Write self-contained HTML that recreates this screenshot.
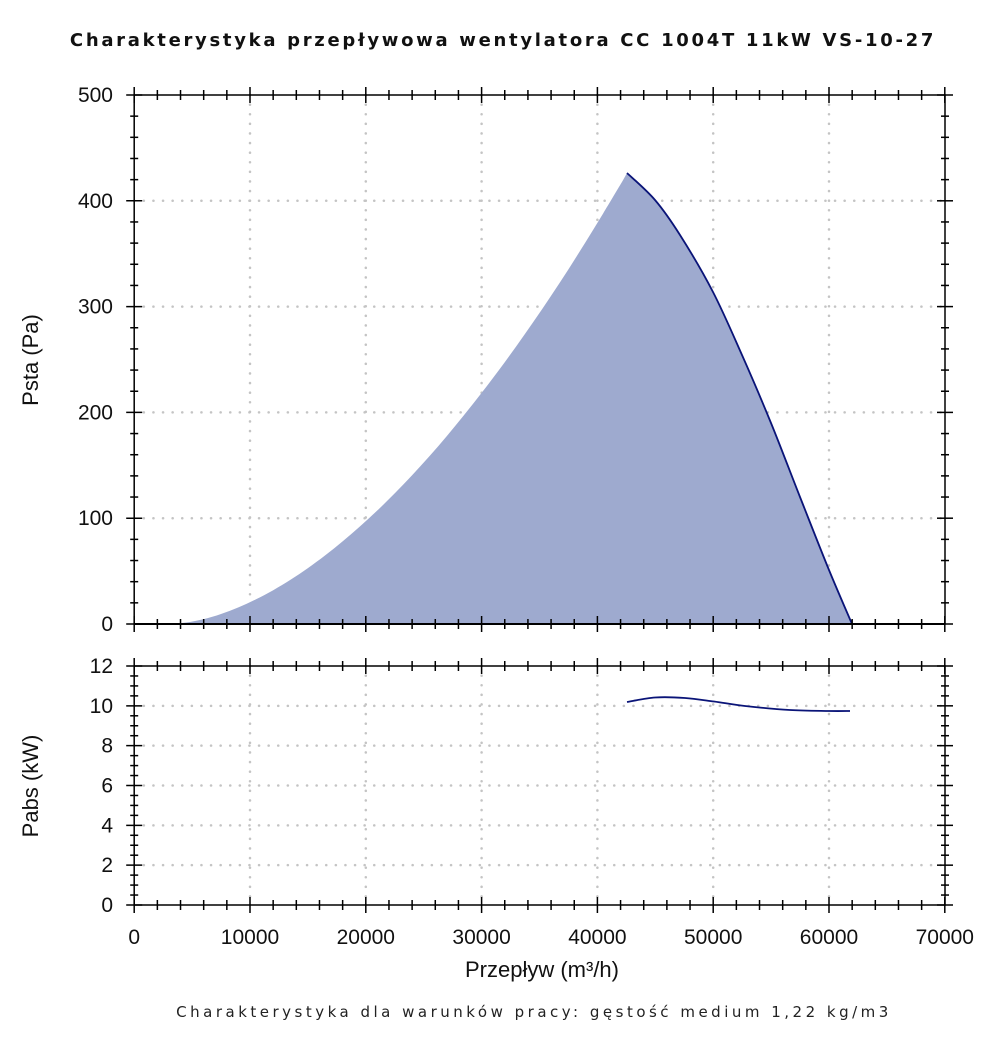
<!DOCTYPE html>
<html><head><meta charset="utf-8"><style>
html,body{margin:0;padding:0;background:#fff;}
svg{display:block;font-family:"Liberation Sans","DejaVu Sans",sans-serif;}
</style></head><body>
<svg id="s" width="1000" height="1062" viewBox="0 0 1000 1062" xmlns="http://www.w3.org/2000/svg">
<rect width="1000" height="1062" fill="#fff"/>
<text x="503" y="46" text-anchor="middle" font-family="DejaVu Sans, sans-serif" font-weight="bold" font-size="18" letter-spacing="2.7" fill="#111">Charakterystyka przepływowa wentylatora CC 1004T 11kW VS-10-27</text>
<g id="grid" stroke="#c4c4c4" stroke-width="2.5" stroke-dasharray="0.1 9.5" stroke-linecap="round"></g>
<path id="fill" fill="#9eaacf"/>
<path id="down" fill="none" stroke="#0a1478" stroke-width="1.8"/>
<line x1="134" y1="624" x2="945" y2="624" stroke="#000" stroke-width="2"/>
<path id="pw" fill="none" stroke="#0a1478" stroke-width="1.8"/>
<g id="ax" stroke="#000" stroke-width="1.5" fill="none"></g>
<g id="lbl" font-size="21" fill="#111"></g>
<text transform="translate(38,360) rotate(-90)" text-anchor="middle" font-size="22" fill="#111">Psta (Pa)</text>
<text transform="translate(38,786) rotate(-90)" text-anchor="middle" font-size="22" fill="#111">Pabs (kW)</text>
<text x="542" y="977" text-anchor="middle" font-size="22" fill="#111">Przepływ (m³/h)</text>
<text x="534" y="1017" text-anchor="middle" font-family="DejaVu Sans, sans-serif" font-size="15" letter-spacing="3.5" fill="#222">Charakterystyka dla warunków pracy: gęstość medium 1,22 kg/m3</text>
</svg>
<script>
var NS="http://www.w3.org/2000/svg";
function el(p,t,a,txt){var e=document.createElementNS(NS,t);for(var k in a)e.setAttribute(k,a[k]);if(txt!==undefined)e.textContent=txt;document.getElementById(p).appendChild(e);}
function cr(pts){var d="M"+pts[0][0]+","+pts[0][1];for(var i=0;i<pts.length-1;i++){var p0=pts[Math.max(0,i-1)],p1=pts[i],p2=pts[i+1],p3=pts[Math.min(pts.length-1,i+2)];
d+=" C"+(p1[0]+(p2[0]-p0[0])/6).toFixed(1)+","+(p1[1]+(p2[1]-p0[1])/6).toFixed(1)+" "+(p2[0]-(p3[0]-p1[0])/6).toFixed(1)+","+(p2[1]-(p3[1]-p1[1])/6).toFixed(1)+" "+p2[0]+","+p2[1];}return d;}
var X0=134.2,XS=115.8/10000;function px(v){return X0+v*XS;}
var T0=95,T1=624,B0=666,B1=905;
function ty(v){return T1-(T1-T0)*v/500;}
function by(v){return B1-(B1-B0)*v/12;}
var up=[];
for(var v=3000;v<42500;v+=1500){var t=Math.max(0,v-3000);var P=425*Math.pow(t/39500,1.75);up.push([+px(v).toFixed(1),+ty(P).toFixed(1)]);}
up.push([627,173]);
var dn=[[627,173],[655,200],[680,235],[713,292],[742,355],[771,423],[800,497],[829,570],[852,624]];
var dd=cr(dn);
document.getElementById("down").setAttribute("d",dd);
var ud=cr(up);
document.getElementById("fill").setAttribute("d",ud+" "+dd.replace(/^M[^ ]+/,"")+" Z");
document.getElementById("pw").setAttribute("d",cr([[627,702],[655,697.5],[685,698],[714,701.5],[745,706],[790,710],[829,711],[850,711]]));
for(var i=1;i<7;i++){var x=px(i*10000);el("grid","line",{x1:x,y1:T0,x2:x,y2:T1});el("grid","line",{x1:x,y1:B0,x2:x,y2:B1});}
for(var v=100;v<500;v+=100)el("grid","line",{x1:X0,y1:ty(v),x2:945,y2:ty(v)});
for(var v=2;v<12;v+=2)el("grid","line",{x1:X0,y1:by(v),x2:945,y2:by(v)});
el("ax","rect",{x:X0,y:T0,width:945-X0,height:T1-T0});
el("ax","rect",{x:X0,y:B0,width:945-X0,height:B1-B0});
for(var v=0;v<=70000;v+=2000){var x=px(v),mj=v%10000==0,l=mj?8:5;
 [[T0,1],[T1,-1],[B0,1],[B1,-1]].forEach(function(p){el("ax","line",{x1:x,y1:p[0]-l,x2:x,y2:p[0]+l});});}
for(var v=0;v<=500;v+=20){var y=ty(v),l=v%100==0?8:4;el("ax","line",{x1:X0-l,y1:y,x2:X0+l,y2:y});el("ax","line",{x1:945-l,y1:y,x2:945+l,y2:y});}
for(var v=0;v<=12;v+=0.5){var y=by(v),l=(v%2==0)?8:4;el("ax","line",{x1:X0-l,y1:y,x2:X0+l,y2:y});el("ax","line",{x1:945-l,y1:y,x2:945+l,y2:y});}
for(var v=0;v<=500;v+=100)el("lbl","text",{x:113,y:ty(v)+7,"text-anchor":"end"},v);
for(var v=0;v<=12;v+=2)el("lbl","text",{x:113,y:by(v)+7,"text-anchor":"end"},v);
for(var v=0;v<=70000;v+=10000)el("lbl","text",{x:px(v),y:944,"text-anchor":"middle"},v);
</script>
</body></html>
